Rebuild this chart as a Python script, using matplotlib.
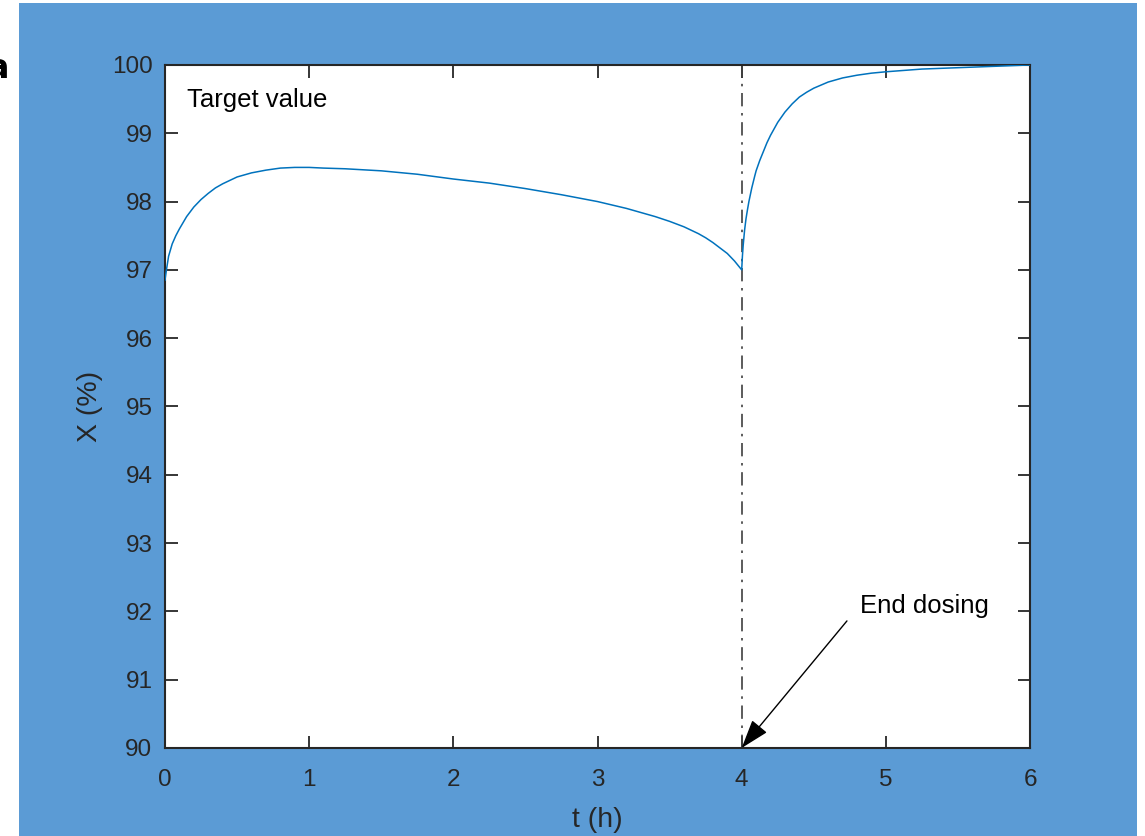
import matplotlib.pyplot as plt
from matplotlib.patches import Rectangle

plt.rcParams['font.family'] = ['Liberation Sans', 'DejaVu Sans']

# conversion during dosing (0-4 h)
t_dose = [0, 0.01, 0.025, 0.05, 0.075, 0.1, 0.15, 0.2, 0.25, 0.3, 0.35, 0.4,
          0.45, 0.5, 0.6, 0.7, 0.8, 0.9, 1.0, 1.1, 1.25, 1.5, 1.75, 2.0, 2.25,
          2.5, 2.75, 3.0, 3.1, 3.2, 3.3, 3.4, 3.5, 3.6, 3.7, 3.75, 3.8, 3.85,
          3.9, 3.95, 4.0]
x_dose = [96.85, 97.0, 97.2, 97.38, 97.5, 97.6, 97.78, 97.92, 98.03, 98.12,
          98.2, 98.26, 98.31, 98.36, 98.42, 98.46, 98.49, 98.5, 98.5, 98.49,
          98.48, 98.45, 98.4, 98.33, 98.27, 98.19, 98.1, 98.0, 97.95, 97.9,
          97.84, 97.78, 97.71, 97.63, 97.53, 97.47, 97.4, 97.32, 97.24, 97.13,
          97.0]

# conversion after the feed stops (4-6 h)
t_post = [4.0, 4.005, 4.01, 4.02, 4.03, 4.04, 4.05, 4.07, 4.09, 4.1, 4.125,
          4.15, 4.175, 4.2, 4.25, 4.3, 4.35, 4.4, 4.45, 4.5, 4.6, 4.7, 4.8,
          4.9, 5.0, 5.25, 5.5, 5.75, 6.0]
x_post = [97.0, 97.2, 97.35, 97.58, 97.75, 97.88, 98.0, 98.2, 98.37, 98.45,
          98.6, 98.73, 98.86, 98.97, 99.16, 99.31, 99.43, 99.53, 99.6, 99.66,
          99.75, 99.81, 99.85, 99.88, 99.9, 99.94, 99.96, 99.98, 100.0]

t_end = 4.0
x_ticks = [0, 1, 2, 3, 4, 5, 6]
y_ticks = [90, 91, 92, 93, 94, 95, 96, 97, 98, 99, 100]

fig = plt.figure(figsize=(11.45, 8.36), dpi=100)
fig.patch.set_facecolor('white')
fig.patches.append(Rectangle((19 / 1145, 0), (1137 - 19) / 1145, 833 / 836,
                             transform=fig.transFigure, facecolor='#5B9BD5',
                             edgecolor='none', zorder=-5))
fig.text(-0.012, 0.918, 'a', fontsize=24, fontweight='bold', va='center',
         family='DejaVu Sans')

ax = fig.add_axes([0.1441, 0.1053, 0.7555, 0.8170])
ax.set_zorder(2)
ax.set_facecolor('white')

ax.plot(t_dose + t_post[1:], x_dose + x_post[1:], color='#0072BD', lw=1.1,
        zorder=3)
ax.axvline(t_end, color='#404040', lw=1.2, ls='-.', dashes=(8, 4, 1.5, 4),
           zorder=2)

ax.text(0.15, 99.49, 'Target value', fontsize=18.5, va='center')
ax.text(4.82, 92.08, 'End dosing', fontsize=18.5, va='center', ha='left')
ax.annotate('', xy=(t_end, 90.0), xytext=(4.73, 91.86),
            arrowprops=dict(arrowstyle='-|>,head_length=1.8,head_width=0.6',
                            color='black', lw=1.0, shrinkA=0, shrinkB=0))

ax.set_xlim(0, 6)
ax.set_ylim(90, 100)
ax.set_xticks(x_ticks)
ax.set_yticks(y_ticks)
ax.tick_params(direction='in', length=9, width=1.3, colors='#262626',
               labelsize=17.5, top=True, right=True)
ax.tick_params(axis='x', pad=15)
ax.tick_params(axis='y', pad=9)
for s in ax.spines.values():
    s.set_color('#262626')
    s.set_linewidth(1.5)

ax.set_xlabel('t (h)', fontsize=20.5, color='#262626', labelpad=12)
ax.set_ylabel('X (%)', fontsize=20.5, color='#262626', labelpad=6)

fig.savefig('out.png', dpi=100)
